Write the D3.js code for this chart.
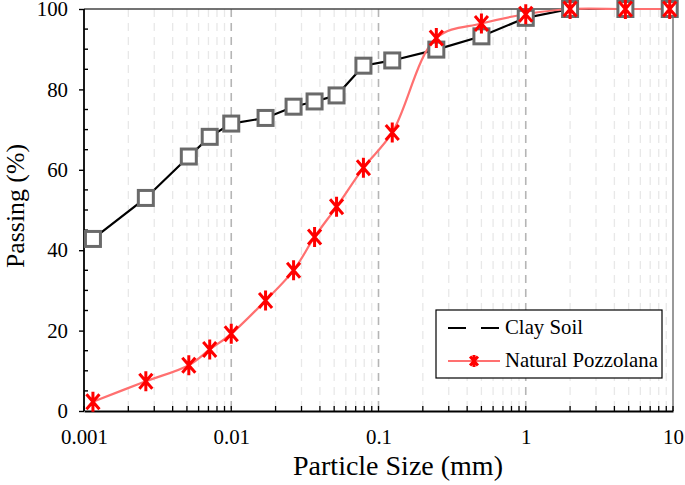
<!DOCTYPE html>
<html>
<head>
<meta charset="utf-8">
<script src="https://cdn.jsdelivr.net/npm/d3@7"></script>
<style>
  html, body { margin: 0; padding: 0; background: #fff; }
  svg { display: block; }
  svg text { font-family: "Liberation Serif", "Times New Roman", "DejaVu Serif", serif; fill: #000; }
</style>
</head>
<body>
<svg id="chart" width="685" height="485"></svg>
<script>
// ---- data ----
const sizes = [0.00115, 0.00263, 0.00515, 0.00714, 0.01, 0.0171, 0.0265, 0.0368, 0.0519, 0.079, 0.124, 0.247, 0.5, 1.0, 2.0, 4.75, 9.5];
const claySoil = [42.8, 53.0, 63.3, 68.2, 71.5, 72.9, 75.7, 77.0, 78.5, 85.9, 87.2, 89.9, 93.2, 97.8, 100, 100, 100];
const pozzolana = [2.3, 7.4, 11.4, 15.3, 19.2, 27.5, 35.0, 43.3, 50.8, 60.5, 69.3, 92.8, 96.4, 98.7, 100, 100, 100];
const xTickValues = [0.001, 0.01, 0.1, 1, 10];
const xTickLabels = ["0.001", "0.01", "0.1", "1", "10"];
const yTickValues = [0, 20, 40, 60, 80, 100];
const seriesNames = ["Clay Soil", "Natural Pozzolana"];

(function () {
const FONT = "Liberation Serif, Times New Roman, DejaVu Serif, serif";
// ---- layout ----
const svg = d3.select("#chart");
const pL = 84, pR = 673, pT = 9, pB = 411;
const x = d3.scaleLog().domain([0.001, 10]).range([pL, pR]);
const y = d3.scaleLinear().domain([0, 100]).range([pB, pT]);

// scale a text's font so its rendered width matches a target width
function fit(sel, target) {
  const node = sel.node();
  const w = node.getComputedTextLength();
  const fs = parseFloat(sel.attr("font-size"));
  if (w > 0) sel.attr("font-size", (fs * target / w).toFixed(2));
  return sel;
}

// minor values per decade
const minorX = [];
for (let e = -3; e < 1; e++) for (let k = 2; k <= 9; k++) minorX.push(k * Math.pow(10, e));

// vertical grid lines
svg.append("g").selectAll("line").data(minorX).join("line")
  .attr("x1", d => x(d)).attr("x2", d => x(d))
  .attr("y1", pT).attr("y2", pB)
  .attr("stroke", "#e8e8e8").attr("stroke-width", 1.3).attr("stroke-dasharray", "8,6");
svg.append("g").selectAll("line").data([0.01, 0.1, 1]).join("line")
  .attr("x1", d => x(d)).attr("x2", d => x(d))
  .attr("y1", pT).attr("y2", pB)
  .attr("stroke", "#b5b5b5").attr("stroke-width", 1.6).attr("stroke-dasharray", "8,6");

// frame (top & right)
svg.append("line").attr("x1", pL).attr("x2", pR).attr("y1", pT).attr("y2", pT)
  .attr("stroke", "#444").attr("stroke-width", 1.5);
svg.append("line").attr("x1", pR).attr("x2", pR).attr("y1", pT).attr("y2", pB)
  .attr("stroke", "#555").attr("stroke-width", 1.2);

// x axis
const xAxis = d3.axisBottom(x).tickValues(xTickValues)
  .tickFormat((d, i) => xTickLabels[i]).tickSize(0).tickPadding(18);
const gx = svg.append("g").attr("transform", `translate(0,${pB})`).call(xAxis)
  .attr("font-family", FONT).attr("font-size", 20);
gx.select(".domain").attr("stroke", "#000").attr("stroke-width", 1.8);
gx.selectAll("text").attr("fill", "#000").attr("font-family", FONT).attr("font-size", 20);
fit(gx.select(".tick text"), 47);
const tfs = gx.select(".tick text").attr("font-size");
gx.selectAll("text").attr("font-size", tfs);
svg.append("g").selectAll("line").data(minorX.concat(xTickValues)).join("line")
  .attr("x1", d => x(d)).attr("x2", d => x(d))
  .attr("y1", pB).attr("y2", pB - 5)
  .attr("stroke", "#000").attr("stroke-width", 1.3);

// y axis
const yAxis = d3.axisLeft(y).tickValues(yTickValues).tickSize(5).tickPadding(11);
const gy = svg.append("g").attr("transform", `translate(${pL},0)`).call(yAxis)
  .attr("font-family", FONT).attr("font-size", tfs);
gy.select(".domain").attr("stroke", "#000").attr("stroke-width", 1.8).attr("d", `M0,${pT}V${pB}`);
gy.selectAll(".tick line").attr("stroke", "#000").attr("stroke-width", 1.4);
gy.selectAll("text").attr("fill", "#000").attr("font-family", FONT).attr("font-size", tfs);
const minorY = d3.range(5, 100, 5).filter(v => v % 20 !== 0);
svg.append("g").selectAll("line").data(minorY).join("line")
  .attr("x1", pL).attr("x2", pL + 4)
  .attr("y1", d => y(d)).attr("y2", d => y(d))
  .attr("stroke", "#000").attr("stroke-width", 1.4);

// axis titles
const xt = svg.append("text").attr("x", 398).attr("y", 475)
  .attr("text-anchor", "middle").attr("font-family", FONT).attr("font-size", 22).text("Particle Size (mm)");
fit(xt, 210);
const yt = svg.append("text").attr("transform", `translate(24,206) rotate(-90)`)
  .attr("text-anchor", "middle").attr("font-family", FONT).attr("font-size", 22).text("Passing (%)");
fit(yt, 124);

const clayData = sizes.map((s, i) => [s, claySoil[i]]);
const pozData = sizes.map((s, i) => [s, pozzolana[i]]);

// clay soil line
svg.append("path").datum(clayData)
  .attr("fill", "none").attr("stroke", "#000").attr("stroke-width", 2.2)
  .attr("d", d3.line().x(d => x(d[0])).y(d => y(d[1])));

// pozzolana smooth line
svg.append("path").datum(pozData)
  .attr("fill", "none").attr("stroke", "#ff7070").attr("stroke-width", 2.2)
  .attr("d", d3.line().x(d => x(d[0])).y(d => y(d[1])).curve(d3.curveCatmullRom.alpha(0.5)));

// squares
const sq = 15;
svg.append("g").selectAll("rect").data(clayData).join("rect")
  .attr("x", d => x(d[0]) - sq / 2).attr("y", d => y(d[1]) - sq / 2)
  .attr("width", sq).attr("height", sq)
  .attr("fill", "#fff").attr("stroke", "#6a6a6a").attr("stroke-width", 3);

// asterisks
function star(g, cx, cy, r) {
  const a = r * 0.65, b = r * 0.75;
  g.append("path")
    .attr("d", `M${cx - a},${cy - b}L${cx + a},${cy + b}M${cx - a},${cy + b}L${cx + a},${cy - b}M${cx},${cy - r}L${cx},${cy + r}`)
    .attr("stroke", "#ff0000").attr("stroke-width", 3).attr("fill", "none");
}
const gs = svg.append("g");
pozData.forEach(d => star(gs, x(d[0]), y(d[1]), 10));

// legend
const lg = svg.append("g");
lg.append("rect").attr("x", 436).attr("y", 310).attr("width", 226).attr("height", 68)
  .attr("fill", "#fff").attr("stroke", "#000").attr("stroke-width", 1.2);
lg.append("line").attr("x1", 448).attr("x2", 500).attr("y1", 328).attr("y2", 328)
  .attr("stroke", "#000").attr("stroke-width", 2.2).attr("stroke-dasharray", "18,15");
const l1 = lg.append("text").attr("x", 505).attr("y", 334).attr("font-family", FONT).attr("font-size", 20).text(seriesNames[0]);
lg.append("line").attr("x1", 448).attr("x2", 500).attr("y1", 361).attr("y2", 361)
  .attr("stroke", "#ff7070").attr("stroke-width", 2.2);
star(lg, 474, 361, 6);
const l2 = lg.append("text").attr("x", 505).attr("y", 367).attr("font-family", FONT).attr("font-size", 20).text(seriesNames[1]);
fit(l2, 153);
l1.attr("font-size", l2.attr("font-size"));
})();
</script>
</body>
</html>
